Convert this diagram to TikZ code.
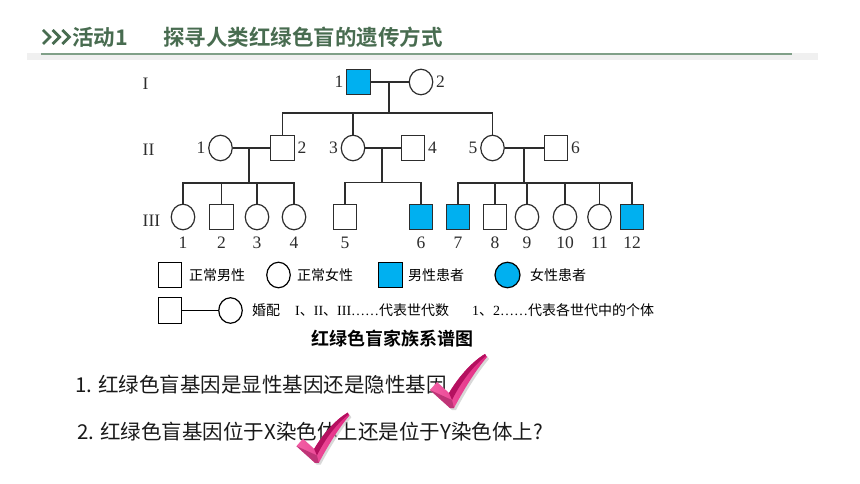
\documentclass[tikz,border=0pt]{standalone}
\usepackage{fontspec}
\setmainfont{Liberation Serif}
\newfontfamily\cjk{Noto Sans CJK SC}[BoldFont={Noto Sans CJK SC Bold}]
\usetikzlibrary{shapes.geometric}
\definecolor{hdr}{RGB}{72,108,80}
\definecolor{hline}{RGB}{128,160,136}
\definecolor{band}{RGB}{240,240,240}
\definecolor{affc}{RGB}{0,176,240}
\definecolor{pedc}{RGB}{45,45,45}
\definecolor{chkl}{RGB}{242,96,165}
\definecolor{chk}{RGB}{226,40,130}
\definecolor{chkd}{RGB}{180,16,95}
\definecolor{qtxt}{RGB}{25,25,25}
\begin{document}
\begin{tikzpicture}[x=1pt,y=-1pt,
  pline/.style={draw=pedc,line width=1.2pt},
  male/.style={pline,rectangle,minimum width=23.5pt,minimum height=25.5pt,inner sep=0pt,fill=white},
  female/.style={pline,ellipse,minimum width=23.5pt,minimum height=25.5pt,inner sep=0pt,fill=white},
  sick/.style={fill=affc},
  num/.style={font=\fontsize{17.5}{20}\selectfont,inner sep=1.5pt,text=pedc},
  every label/.style={num},
  label distance=1pt,
  lg/.style={font=\fontsize{14}{16}\selectfont,inner sep=0pt,text=black},
  lgc/.style={font=\cjk\fontsize{14}{16}\selectfont,inner sep=0pt,text=black},
  q/.style={font=\cjk\fontsize{20.5}{24}\selectfont,inner sep=0pt,text=qtxt},
  hdrtext/.style={font=\cjk\bfseries\fontsize{21.5}{24}\selectfont,text=hdr,inner sep=0pt},
  checkpic/.pic={
    \fill[gray!55,opacity=0.55] (-19,-14) -- (-12,-22) -- (0,-11) .. controls (10,-28) and (24,-43) .. (36,-50) -- (38,-47) .. controls (26,-33) and (14,-13) .. (5,4) -- (1,4) -- cycle;
    \shade[left color=chkl,right color=chk] (-21,-16) -- (-14,-24) -- (-2,-13) .. controls (8,-30) and (22,-45) .. (34,-52) -- (36,-49) .. controls (24,-35) and (12,-15) .. (3,2) -- (-1,2) -- cycle;
    \fill[chkd] (-2,-13) .. controls (8,-30) and (22,-45) .. (34,-52) -- (35,-50) .. controls (22,-40) and (10,-24) .. (1,-6) -- cycle;
    \fill[chkd!85] (-21,-16) -- (1,-6) -- (3,2) -- (-1,2) -- cycle;
  }]
\useasboundingbox (0,0) rectangle (860,484);
\fill[white] (0,0) rectangle (860,484);

% header
\fill[band] (27,53.5) rectangle (818,60);
\draw[hline,line width=1.6pt] (41,54.3) -- (792,54.3);
\foreach \i in {0,1,2}
  \draw[hdr,line width=2.8pt] ({43+9.7*\i},30) -- ({50+9.7*\i},37) -- ({43+9.7*\i},44);
\node[hdrtext,anchor=west] (h1) at (72,37) {活动1};
\node[hdrtext,anchor=west] (h2) at (163,37) {探寻人类红绿色盲的遗传方式};

% generation labels
\node[num,anchor=west] (g1) at (141,84) {I};
\node[num,anchor=west] (g2) at (141,150) {II};
\node[num,anchor=west] (g3) at (141,221) {III};

% generation I
\node[male,sick,label=left:1] (I1) at (358.5,82) {};
\node[female,label=right:2] (I2) at (421,82) {};
\coordinate (m1) at (389,82);
\coordinate (s1) at (389,113);

% generation II
\node[female,label=left:1] (II1) at (220.5,148) {};
\node[male,label=right:2] (II2) at (282.5,148) {};
\node[female,label=left:3] (II3) at (353,148) {};
\node[male,label=right:4] (II4) at (413,148) {};
\node[female,label=left:5] (II5) at (492.5,148) {};
\node[male,label=right:6] (II6) at (556,148) {};
\coordinate (m2) at (249,148);
\coordinate (s2) at (249,183);
\coordinate (m3) at (382,148);
\coordinate (s3) at (382,182.5);
\coordinate (m4) at (524,148);
\coordinate (s4) at (524,183);

% generation III
\node[female,label={[label distance=5pt]below:1}] (III1) at (183,217) {};
\node[male,label={[label distance=5pt]below:2}] (III2) at (221.5,217) {};
\node[female,label={[label distance=5pt]below:3}] (III3) at (257,217) {};
\node[female,label={[label distance=5pt]below:4}] (III4) at (294,217) {};
\node[male,label={[label distance=5pt]below:5}] (III5) at (345,217) {};
\node[male,sick,label={[label distance=5pt]below:6}] (III6) at (421,217) {};
\node[male,sick,label={[label distance=5pt]below:7}] (III7) at (458,217) {};
\node[male,label={[label distance=5pt]below:8}] (III8) at (495,217) {};
\node[female,label={[label distance=5pt]below:9}] (III9) at (527,217) {};
\node[female,label={[label distance=5pt]below:10}] (III10) at (565,217) {};
\node[female,label={[label distance=5pt]below:11}] (III11) at (599.5,217) {};
\node[male,sick,label={[label distance=5pt]below:12}] (III12) at (632,217) {};

% connectors
\draw[pline] (I1) -- (I2);
\draw[pline] (m1) -- (s1);
\draw[pline] (II2.north) |- (s1) -| (II5.north);
\draw[pline] (II3.north) -- (II3.north |- s1);

\draw[pline] (II1) -- (II2);
\draw[pline] (m2) -- (s2);
\draw[pline] (III1.north) |- (s2) -| (III4.north);
\draw[pline] (III2.north) -- (III2.north |- s2);
\draw[pline] (III3.north) -- (III3.north |- s2);

\draw[pline] (II3) -- (II4);
\draw[pline] (m3) -- (s3);
\draw[pline] (III5.north) |- (s3) -| (III6.north);

\draw[pline] (II5) -- (II6);
\draw[pline] (m4) -- (s4);
\draw[pline] (III7.north) |- (s4) -| (III12.north);
\draw[pline] (III8.north) -- (III8.north |- s4);
\draw[pline] (III9.north) -- (III9.north |- s4);
\draw[pline] (III10.north) -- (III10.north |- s4);
\draw[pline] (III11.north) -- (III11.north |- s4);

% legend
\node[male,draw=black] (L1) at (170,275) {};
\node[lgc,anchor=west] (L1t) at (189,275) {正常男性};
\node[female,draw=black] (L2) at (278.5,275) {};
\node[lgc,anchor=west] (L2t) at (297,275) {正常女性};
\node[male,sick,draw=black] (L3) at (390.5,275) {};
\node[lgc,anchor=west] (L3t) at (408,275) {男性患者};
\node[female,sick,draw=black,minimum width=25pt] (L4) at (507.5,275) {};
\node[lgc,anchor=west] (L4t) at (530,275) {女性患者};

\node[male,draw=black] (L5) at (170,310.5) {};
\node[female,draw=black] (L6) at (230.5,310.5) {};
\draw[pline,draw=black] (L5) -- (L6);
\node[lgc,anchor=west] (L6t) at (252,310) {婚配};
\node[lg,anchor=west] (L7t) at (295,310) {I{\cjk 、}II{\cjk 、}III……{\cjk 代表世代数}};
\node[lg,anchor=west] (L8t) at (472,310) {1{\cjk 、}2……{\cjk 代表各世代中的个体}};

\node[font=\cjk\bfseries\fontsize{18}{20}\selectfont,inner sep=0pt] (title) at (392,339) {红绿色盲家族系谱图};

% questions
\node[q,anchor=west] (q1) at (75,385) {1. 红绿色盲基因是显性基因还是隐性基因};
\node[q,anchor=west] (q2) at (77,432) {2. 红绿色盲基因位于X染色体上还是位于Y染色体上?};

% check marks
\pic at (451,406) {checkpic};
\pic[scale=0.93] at (316,461) {checkpic};
\end{tikzpicture}
\end{document}
